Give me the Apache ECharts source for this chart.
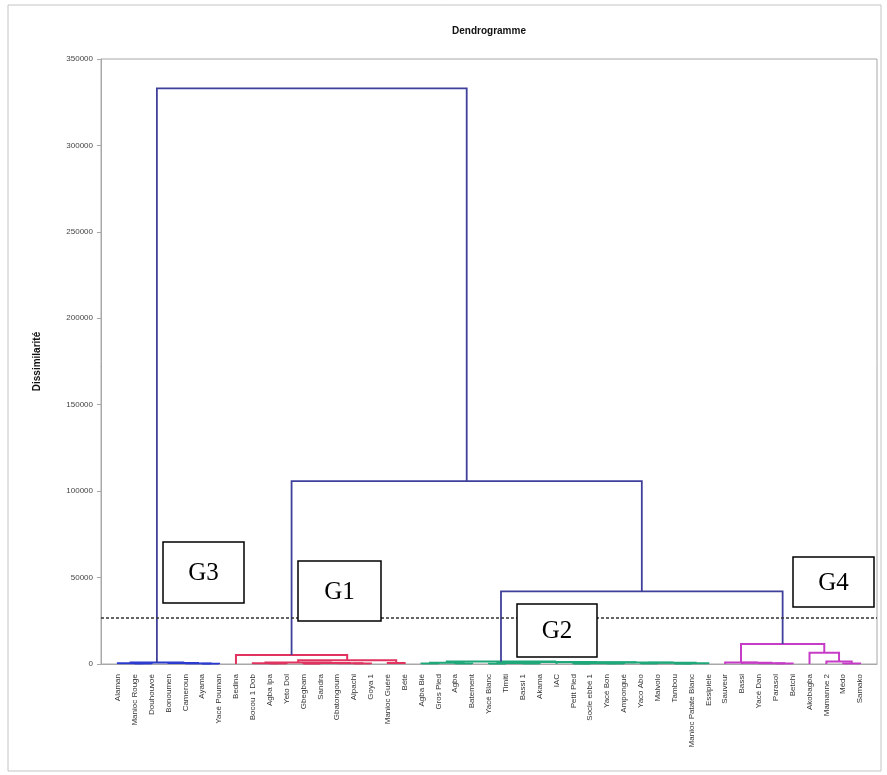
<!DOCTYPE html>
<html>
<head>
<meta charset="utf-8">
<script src="https://cdn.jsdelivr.net/npm/echarts@6/dist/echarts.min.js"></script>
<style>
  html, body { margin: 0; padding: 0; background: #fff; }
  #container { width: 887px; height: 775px; }
</style>
</head>
<body>
<div id="container"></div>
<script>
// feuilles du dendrogramme, dans l'ordre de l'axe
var leafNames = [
  'Alaman', 'Manioc Rouge', 'Douhouvoé', 'Bonoumen', 'Cameroun', 'Ayama', 'Yacé Pouman',
  'Bedina', 'Bocou 1 Dob', 'Agba Ipa', 'Yeto Dol', 'Gbegbam', 'Sandra', 'Gbatongoum',
  'Alpachi', 'Goya 1', 'Manioc Guéré', 'Bété',
  'Agba Bié', 'Gros Pied', 'Agba', 'Batement', 'Yacé Blanc', 'Timiti', 'Bassi 1', 'Akama',
  'IAC', 'Petit Pied', 'Socle ebbé 1', 'Yacé Bon', 'Ampongué', 'Yaco Abo', 'Malvolo',
  'Tambou', 'Manioc Patate Blanc', 'Essipiele',
  'Sauveur', 'Bassi', 'Yacé Dan', 'Parasol', 'Betchi', 'Akobagba', 'Mamanne 2', 'Médo', 'Samako'
];

// groupes (taille, étiquette, couleur)
var groupSizes  = [7, 11, 18, 9];
var groupNames  = ['G3', 'G1', 'G2', 'G4'];
var groupColors = ['#2b3bd0', '#e0335f', '#1fa87a', '#c63cc6'];
var linkColor = '#3f3f9c';

// fusions : [a, b, dissimilarité] ; a/b < 45 = feuille, sinon 45 + n° de fusion
var merges = [
  [1, 2, 250], [0, 45, 450], [5, 6, 200], [4, 47, 300], [3, 48, 600], [46, 49, 900],
  [9, 10, 300], [8, 51, 500], [11, 12, 200], [14, 15, 250], [13, 54, 450], [53, 55, 650],
  [52, 56, 900], [16, 17, 600], [57, 58, 2200], [7, 59, 5200],
  [18, 19, 300], [20, 21, 250], [61, 62, 700], [22, 23, 200], [24, 25, 350], [64, 65, 600],
  [27, 28, 150], [29, 30, 300], [67, 68, 500], [31, 32, 250], [33, 34, 200], [71, 35, 450],
  [70, 72, 700], [69, 73, 900], [26, 74, 1000], [66, 75, 1200], [63, 76, 1500],
  [39, 40, 300], [38, 78, 500], [37, 79, 700], [36, 80, 900], [43, 44, 300], [42, 82, 1500],
  [41, 83, 6500], [81, 84, 11600],
  [77, 85, 42000], [60, 86, 105800], [50, 87, 333000]
];

var cutHeight = 26600;
var yMax = 350000, yStep = 50000;

var nLeaf = leafNames.length;
var leafGroup = [];
groupSizes.forEach(function (s, g) { for (var i = 0; i < s; i++) leafGroup.push(g); });

var nodeX = [], nodeH = [], nodeG = [];
function info(id) {
  if (id < nLeaf) return { x: id + 1, h: 0, g: leafGroup[id] };
  var k = id - nLeaf;
  return { x: nodeX[k], h: nodeH[k], g: nodeG[k] };
}
var linkData = [];
merges.forEach(function (m) {
  var a = info(m[0]), b = info(m[1]), h = m[2];
  var g = (a.g === b.g) ? a.g : -1;
  nodeX.push((a.x + b.x) / 2);
  nodeH.push(h);
  nodeG.push(g);
  linkData.push({
    coords: [[a.x, a.h], [a.x, h], [b.x, h], [b.x, b.h]],
    lineStyle: { color: g < 0 ? linkColor : groupColors[g], width: g < 0 ? 1.8 : 2 }
  });
});

var myChart = echarts.init(document.getElementById('container'));

// cadres G1..G4
var boxes = [
  { t: 'G3', x: 163, y: 542, w: 81, h: 61 },
  { t: 'G1', x: 298, y: 561, w: 83, h: 60 },
  { t: 'G2', x: 517, y: 604, w: 80, h: 53 },
  { t: 'G4', x: 793, y: 557, w: 81, h: 50 }
];
var graphics = [
  { type: 'rect', shape: { x: 8, y: 5, width: 873, height: 766 },
    style: { fill: null, stroke: '#c4c4c4', lineWidth: 1 }, z: -1 },
  { type: 'text', x: 489, y: 31,
    style: { text: 'Dendrogramme', font: 'bold 10px "Liberation Sans", Arial', fill: '#111',
             textAlign: 'center', textVerticalAlign: 'middle' } }
];
boxes.forEach(function (b) {
  graphics.push({ type: 'rect', shape: { x: b.x, y: b.y, width: b.w, height: b.h },
    style: { fill: '#fff', stroke: '#000', lineWidth: 1.5 }, z: 100 });
  graphics.push({ type: 'text', x: b.x + b.w / 2, y: b.y + b.h / 2 + 1,
    style: { text: b.t, font: '25px "Liberation Serif", "Times New Roman", serif', fill: '#000',
             textAlign: 'center', textVerticalAlign: 'middle' }, z: 101 });
});

var option = {
  animation: false,
  grid: {
    left: 101, right: 10, top: 59, bottom: 111,
    show: true, borderColor: '#a8a8a8', borderWidth: 1
  },
  xAxis: {
    type: 'value', min: 0, max: nLeaf + 1, interval: 1,
    splitLine: { show: false },
    axisLine: { show: true, onZero: false, lineStyle: { color: '#a8a8a8' } },
    axisTick: { show: false },
    axisLabel: {
      rotate: 90, fontSize: 8, color: '#333', margin: 10,
      fontFamily: '"Liberation Sans", Arial',
      showMinLabel: true, showMaxLabel: true,
      formatter: function (v) {
        var i = Math.round(v) - 1;
        return (i >= 0 && i < nLeaf) ? leafNames[i] : '';
      }
    }
  },
  yAxis: {
    type: 'value', min: 0, max: yMax, interval: yStep,
    name: 'Dissimilarité', nameLocation: 'middle', nameGap: 59, nameRotate: 90,
    nameTextStyle: { fontSize: 10, fontWeight: 'bold', color: '#111', fontFamily: '"Liberation Sans", Arial' },
    splitLine: { show: false },
    axisLine: { show: true, lineStyle: { color: '#a8a8a8' } },
    axisTick: { show: true, length: 4, lineStyle: { color: '#a8a8a8' } },
    axisLabel: {
      fontSize: 8, color: '#444', margin: 8, fontFamily: '"Liberation Sans", Arial',
      formatter: function (v) { return String(v); }
    }
  },
  series: [
    {
      type: 'lines', coordinateSystem: 'cartesian2d', polyline: true,
      data: linkData, lineStyle: { width: 1.6, opacity: 1 }, z: 3
    },
    {
      type: 'line', data: [], symbol: 'none',
      markLine: {
        silent: true, symbol: 'none', label: { show: false },
        lineStyle: { type: [3, 2], color: '#333', width: 1.5 },
        data: [{ yAxis: cutHeight }]
      }
    }
  ],
  graphic: graphics
};
myChart.setOption(option);
</script>
</body>
</html>
